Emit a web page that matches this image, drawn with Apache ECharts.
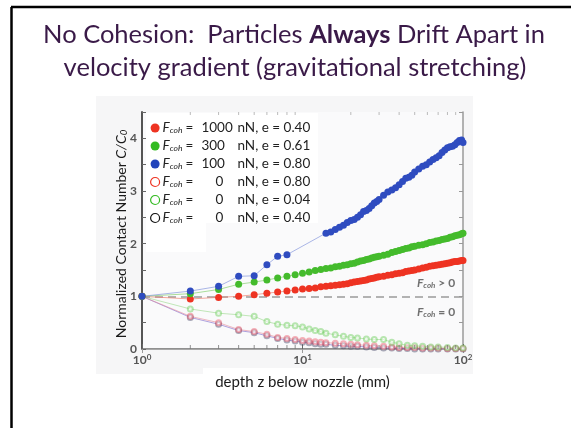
<!DOCTYPE html>
<html>
<head>
<meta charset="utf-8">
<script src="https://cdn.jsdelivr.net/npm/echarts@6/dist/echarts.min.js"></script>
<style>
  html, body { margin: 0; padding: 0; background: #fff; }
  #chart { width: 571px; height: 428px; }
</style>
</head>
<body>
<div id="chart"></div>
<script>
// Contact number C/C0 versus depth below the nozzle for six simulations.
const zRed1000 = [1, 2, 3, 4, 5, 6, 7, 8, 9, 10, 11, 12, 13, 14, 15, 16, 17, 18, 19, 20, 21, 22, 23, 24, 25, 26, 27, 28, 29, 30, 32, 34, 36, 38, 40, 42, 44, 46, 48, 50, 53, 56, 59, 62, 65, 68, 71, 74, 77, 80, 83, 86, 89, 92, 95, 98, 100];
const cRed1000 = [1.00, 0.95, 0.98, 1.00, 1.03, 1.06, 1.08, 1.10, 1.12, 1.14, 1.15, 1.16, 1.18, 1.19, 1.20, 1.21, 1.22, 1.23, 1.24, 1.26, 1.27, 1.28, 1.29, 1.30, 1.31, 1.33, 1.34, 1.35, 1.36, 1.37, 1.38, 1.40, 1.41, 1.43, 1.44, 1.45, 1.47, 1.48, 1.49, 1.50, 1.52, 1.54, 1.55, 1.57, 1.58, 1.59, 1.60, 1.61, 1.62, 1.63, 1.64, 1.65, 1.66, 1.66, 1.67, 1.68, 1.68];

const zGreen300 = [1, 2, 3, 4, 5, 6, 7, 8, 9, 10, 11, 12, 13, 14, 15, 16, 17, 18, 19, 20, 21, 22, 23, 24, 25, 26, 27, 28, 29, 30, 32, 34, 36, 38, 40, 42, 44, 46, 48, 50, 53, 56, 59, 62, 65, 68, 71, 74, 77, 80, 83, 86, 89, 92, 95, 98, 100];
const cGreen300 = [1.00, 1.05, 1.13, 1.23, 1.27, 1.31, 1.35, 1.38, 1.41, 1.44, 1.46, 1.49, 1.51, 1.53, 1.54, 1.56, 1.57, 1.59, 1.60, 1.62, 1.63, 1.65, 1.67, 1.68, 1.70, 1.71, 1.73, 1.74, 1.75, 1.76, 1.78, 1.80, 1.83, 1.85, 1.87, 1.89, 1.91, 1.92, 1.94, 1.95, 1.97, 1.98, 2.00, 2.02, 2.03, 2.05, 2.06, 2.08, 2.09, 2.10, 2.12, 2.13, 2.15, 2.16, 2.17, 2.19, 2.20];

const zBlue100 = [1, 2, 3, 4, 5, 6, 7, 8, 14, 15, 16, 17, 18, 19, 20, 21, 22, 23, 24, 25, 26, 27, 28, 29, 30, 32, 34, 36, 38, 40, 42, 44, 46, 48, 50, 53, 56, 59, 62, 65, 68, 71, 74, 77, 80, 83, 86, 89, 92, 95, 98, 100];
const cBlue100 = [1.00, 1.10, 1.19, 1.38, 1.39, 1.60, 1.76, 1.79, 2.20, 2.22, 2.27, 2.31, 2.35, 2.40, 2.44, 2.46, 2.50, 2.55, 2.61, 2.63, 2.67, 2.72, 2.77, 2.80, 2.84, 2.92, 2.98, 3.02, 3.06, 3.12, 3.18, 3.24, 3.26, 3.30, 3.36, 3.42, 3.47, 3.50, 3.55, 3.60, 3.63, 3.67, 3.73, 3.78, 3.82, 3.84, 3.85, 3.88, 3.92, 3.96, 3.97, 3.92];

const zRedE080 = [1, 2, 3, 4, 5, 6, 7, 8, 9, 10, 11, 12, 13, 14, 16, 18, 20, 22, 25, 28, 32, 36, 40, 45, 50, 56, 63, 70, 80, 90, 100];
const cRedE080 = [1.00, 0.62, 0.50, 0.37, 0.33, 0.28, 0.22, 0.20, 0.18, 0.16, 0.15, 0.14, 0.13, 0.12, 0.11, 0.10, 0.09, 0.08, 0.07, 0.06, 0.05, 0.04, 0.03, 0.03, 0.03, 0.02, 0.02, 0.02, 0.01, 0.01, 0.01];

const zGreenE004 = [1, 2, 3, 4, 5, 6, 7, 8, 9, 10, 11, 12, 13, 14, 16, 18, 20, 22, 25, 28, 32, 36, 40, 45, 50, 56, 63, 70, 80, 90, 100];
const cGreenE004 = [1.00, 0.76, 0.68, 0.65, 0.62, 0.52, 0.47, 0.45, 0.44, 0.42, 0.38, 0.35, 0.33, 0.30, 0.27, 0.24, 0.22, 0.21, 0.19, 0.18, 0.18, 0.13, 0.10, 0.07, 0.06, 0.05, 0.04, 0.04, 0.03, 0.02, 0.02];

const zBlackE040 = [1, 2, 3, 4, 5, 6, 7, 8, 9, 10, 11, 12, 13, 14, 16, 18, 20, 22, 25, 28, 32, 36, 40, 45, 50, 56, 63, 70, 80, 90, 100];
const cBlackE040 = [1.00, 0.60, 0.47, 0.35, 0.31, 0.25, 0.20, 0.17, 0.15, 0.13, 0.12, 0.10, 0.09, 0.09, 0.07, 0.06, 0.05, 0.05, 0.04, 0.03, 0.02, 0.02, 0.01, 0.01, 0.00, 0.00, 0.00, 0.00, 0.00, 0.00, 0.00];

// Legend entries: force value, restitution coefficient
const legendForce = ['1000', '300', '100', '0', '0', '0'];
const legendE = ['0.40', '0.61', '0.80', '0.80', '0.04', '0.40'];
const seriesNames = ['F1000 e0.40', 'F300 e0.61', 'F100 e0.80', 'F0 e0.80', 'F0 e0.04', 'F0 e0.40'];

// Minor log ticks along the horizontal axis
const minorTickZ = [2, 3, 4, 5, 6, 7, 8, 9, 20, 30, 40, 50, 60, 70, 80, 90];

const Y_MIN = 0, Y_MAX = 4.5;
const zip = (xs, ys) => xs.map((x, i) => [x, ys[i]]);

const FONT = 'Lato';
const TITLE = '#3a1a48';
const chart = echarts.init(document.getElementById('chart'), null, { renderer: 'canvas' });

function filledSeries(name, data, color, lineColor) {
  return {
    name, type: 'line', data,
    symbol: 'circle', symbolSize: 7, showSymbol: true,
    itemStyle: { color },
    lineStyle: { color: lineColor, width: 1, opacity: 0.7 },
    emphasis: { disabled: true },
    z: 5
  };
}
function openSeries(name, data, markColor, lineColor) {
  return {
    name, type: 'line', data,
    symbol: 'emptyCircle', symbolSize: 5, showSymbol: true,
    itemStyle: { color: markColor, borderWidth: 1, opacity: 0.45 },
    lineStyle: { color: lineColor, width: 1, opacity: 0.6 },
    emphasis: { disabled: true },
    z: 3
  };
}

const legendRich = {
  f: { fontFamily: FONT, fontStyle: 'italic', fontSize: 13.5, color: '#222' },
  s: { fontFamily: FONT, fontStyle: 'italic', fontSize: 8.5, color: '#222', verticalAlign: 'bottom', padding: [5, 0, 0, 0] },
  eq: { fontFamily: FONT, fontSize: 13.5, color: '#222', width: 16, padding: [0, 0, 0, 3] },
  nl: { fontFamily: FONT, fontSize: 13.5, color: '#222', width: 36 },
  nz: { fontFamily: FONT, fontSize: 13.5, color: '#222', width: 22, padding: [0, 0, 0, 14] },
  u: { fontFamily: FONT, fontSize: 13.5, color: '#222' }
};

const openIcon = c => ({ color: '#fff', borderColor: c, borderWidth: 1.2, opacity: 1 });

const option = {
  animation: false,
  backgroundColor: '#ffffff',
  grid: {
    left: 142, top: 112, right: 108, bottom: 79,
    show: true, backgroundColor: '#fafafb', borderWidth: 0
  },
  xAxis: [{
    type: 'log', logBase: 10, min: 1, max: 100,
    position: 'bottom',
    axisLine: { lineStyle: { color: '#6d6d6d', width: 1.5 } },
    axisTick: { inside: true, length: 5, lineStyle: { color: '#666' } },
    splitLine: { show: false },
    axisLabel: {
      margin: 4,
      formatter: v => '{b|10}{p|' + Math.round(Math.log10(v)) + '}',
      rich: {
        b: { fontFamily: FONT, fontWeight: 'bold', fontSize: 12, color: '#555' },
        p: { fontFamily: FONT, fontWeight: 'bold', fontSize: 8, color: '#555', verticalAlign: 'top', padding: [0, 0, 6, 0] }
      }
    },
    name: 'depth z below nozzle (mm)',
    nameLocation: 'middle', nameGap: 26,
    nameTextStyle: { fontFamily: FONT, fontSize: 15, color: '#1a1a1a' }
  }, {
    type: 'log', logBase: 10, min: 1, max: 100,
    position: 'top',
    axisLine: { lineStyle: { color: '#a8a8a8', width: 1 } },
    axisTick: { inside: true, length: 4, lineStyle: { color: '#999' } },
    axisLabel: { show: false },
    splitLine: { show: false }
  }],
  yAxis: [{
    type: 'value', min: Y_MIN, max: Y_MAX, interval: 0.5,
    position: 'left',
    axisLine: { show: true, lineStyle: { color: '#555', width: 2 } },
    axisTick: { inside: true, length: 4, lineStyle: { color: '#666' } },
    splitLine: { show: false },
    axisLabel: {
      margin: 5,
      formatter: v => (Number.isInteger(v) ? String(v) : ''),
      fontFamily: FONT, fontWeight: 'bold', fontSize: 12, color: '#555'
    }
  }, {
    type: 'value', min: Y_MIN, max: Y_MAX, interval: 0.5,
    position: 'right',
    axisLine: { show: true, lineStyle: { color: '#9a9a9a', width: 1.5 } },
    axisTick: { inside: true, length: 4, lineStyle: { color: '#999' } },
    axisLabel: { show: false },
    splitLine: { show: false }
  }],
  legend: {
    orient: 'vertical',
    left: 150, top: 121,
    itemWidth: 9, itemHeight: 9, itemGap: 4,
    padding: 0,
    selectedMode: false,
    textStyle: { rich: legendRich, padding: [0, 0, 0, -2] },
    formatter: name => {
      const i = seriesNames.indexOf(name);
      const n = legendForce[i];
      const numTag = n === '0' ? 'nz' : 'nl';
      return '{f|F}{s|coh}{eq|=}{' + numTag + '|' + n + '}{u|nN, e = ' + legendE[i] + '}';
    },
    data: [
      { name: seriesNames[0], icon: 'circle', itemStyle: { color: '#ee3322', opacity: 1 } },
      { name: seriesNames[1], icon: 'circle', itemStyle: { color: '#33bb22', opacity: 1 } },
      { name: seriesNames[2], icon: 'circle', itemStyle: { color: '#2244bb', opacity: 1 } },
      { name: seriesNames[3], icon: 'circle', itemStyle: openIcon('#ee3322') },
      { name: seriesNames[4], icon: 'circle', itemStyle: openIcon('#33bb22') },
      { name: seriesNames[5], icon: 'circle', itemStyle: openIcon('#111111') }
    ]
  },
  series: [
    openSeries(seriesNames[5], zip(zBlackE040, cBlackE040), '#444466', '#7a66cc'),
    openSeries(seriesNames[3], zip(zRedE080, cRedE080), '#ee5566', '#e58a9a'),
    openSeries(seriesNames[4], zip(zGreenE004, cGreenE004), '#66cc55', '#9ad88a'),
    filledSeries(seriesNames[0], zip(zRed1000, cRed1000), '#ee3322', '#f08070'),
    filledSeries(seriesNames[1], zip(zGreen300, cGreen300), '#44bb2c', '#88d070'),
    Object.assign(filledSeries(seriesNames[2], zip(zBlue100, cBlue100), '#2f4cc0', '#8899dd'), {
      markLine: {
        silent: true, symbol: 'none', label: { show: false },
        lineStyle: { color: '#9a9a9a', type: [8, 5], width: 1.5 },
        data: [{ yAxis: 1 }]
      }
    }),
    {
      name: 'minorTicksBottom', type: 'scatter', silent: true,
      data: minorTickZ.map(z => [z, Y_MIN]),
      symbol: 'rect', symbolSize: [1, 4], symbolOffset: [0, -2],
      itemStyle: { color: '#777' }, z: 6
    },
    {
      name: 'minorTicksTop', type: 'scatter', silent: true,
      data: minorTickZ.map(z => [z, Y_MAX]),
      symbol: 'rect', symbolSize: [1, 3], symbolOffset: [0, 1.5],
      itemStyle: { color: '#aaa' }, z: 6
    }
  ],
  graphic: [
    // light backdrop behind the figure
    { type: 'rect', z: -10, shape: { x: 96, y: 96, width: 377, height: 278 }, style: { fill: '#f6f6f7' } },
    { type: 'rect', z: -9, shape: { x: 203, y: 368, width: 197, height: 24 }, style: { fill: '#ffffff' } },
    // legend panel
    { type: 'rect', z: 3, shape: { x: 146, y: 113, width: 172, height: 110 }, style: { fill: '#ffffff' } },
    { type: 'rect', z: 3, shape: { x: 146, y: 223, width: 60, height: 29 }, style: { fill: '#ffffff' } },
    // slide frame
    { type: 'line', z: 20, shape: { x1: 11.5, y1: 7, x2: 11.5, y2: 428 }, style: { stroke: '#000', lineWidth: 2.5 } },
    { type: 'line', z: 20, shape: { x1: 11, y1: 7, x2: 571, y2: 7 }, style: { stroke: '#000', lineWidth: 2.5 } },
    // slide title
    {
      type: 'text', z: 20, x: 294, y: 22,
      style: {
        text: '{r|No Cohesion:  Particles }{b|Always}{r| Drift Apart in}',
        align: 'center', verticalAlign: 'top',
        rich: {
          r: { fontFamily: FONT, fontSize: 25.5, fill: TITLE },
          b: { fontFamily: FONT, fontSize: 25.5, fontWeight: 'bold', fill: TITLE }
        }
      }
    },
    {
      type: 'text', z: 20, x: 295, y: 55,
      style: {
        text: 'velocity gradient (gravitational stretching)',
        align: 'center', verticalAlign: 'top',
        fontFamily: FONT, fontSize: 25.5, fill: TITLE
      }
    },
    // vertical axis title
    {
      type: 'text', z: 20, x: 121, y: 234, rotation: Math.PI / 2,
      style: {
        text: '{n|Normalized Contact Number }{i|C/C}{s|0}',
        align: 'center', verticalAlign: 'middle',
        rich: {
          n: { fontFamily: FONT, fontSize: 14, fill: '#1a1a1a' },
          i: { fontFamily: FONT, fontSize: 14, fontStyle: 'italic', fill: '#1a1a1a' },
          s: { fontFamily: FONT, fontSize: 9.5, fontStyle: 'italic', fill: '#1a1a1a', verticalAlign: 'bottom', padding: [5, 0, 0, 0] }
        }
      }
    },
    // regime annotations either side of C/C0 = 1
    {
      type: 'text', z: 20, x: 417, y: 277,
      style: {
        text: '{f|F}{s|coh}{t| > 0}',
        rich: {
          f: { fontFamily: FONT, fontSize: 12, fontStyle: 'italic', fontWeight: 'bold', fill: '#707070' },
          s: { fontFamily: FONT, fontSize: 8, fontStyle: 'italic', fontWeight: 'bold', fill: '#707070', verticalAlign: 'bottom', padding: [4, 0, 0, 0] },
          t: { fontFamily: FONT, fontSize: 12, fontWeight: 'bold', fill: '#707070' }
        }
      }
    },
    {
      type: 'text', z: 20, x: 417, y: 306,
      style: {
        text: '{f|F}{s|coh}{t| = 0}',
        rich: {
          f: { fontFamily: FONT, fontSize: 12, fontStyle: 'italic', fontWeight: 'bold', fill: '#707070' },
          s: { fontFamily: FONT, fontSize: 8, fontStyle: 'italic', fontWeight: 'bold', fill: '#707070', verticalAlign: 'bottom', padding: [4, 0, 0, 0] },
          t: { fontFamily: FONT, fontSize: 12, fontWeight: 'bold', fill: '#707070' }
        }
      }
    }
  ]
};

chart.setOption(option);
</script>
</body>
</html>
